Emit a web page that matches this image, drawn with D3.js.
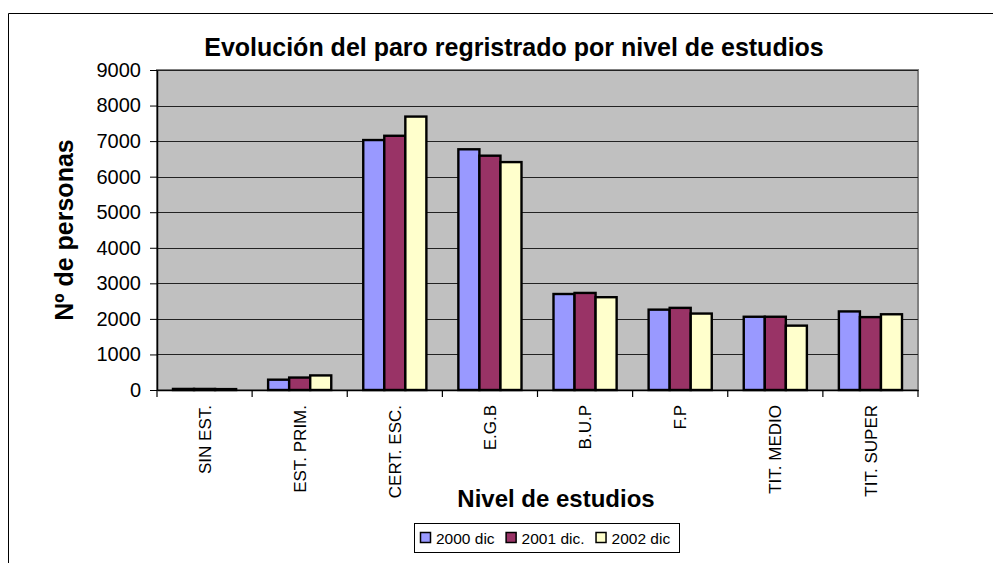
<!DOCTYPE html>
<html>
<head>
<meta charset="utf-8">
<script src="https://cdn.jsdelivr.net/npm/d3@7"></script>
<style>
  html, body { margin: 0; padding: 0; background: #fff; }
  svg { display: block; font-family: Arial, "Liberation Sans", sans-serif; }
</style>
</head>
<body>
<div id="chart"></div>
<script>
/* -------------------------------------------------
   Evolución del paro registrado – grouped bar chart
   ------------------------------------------------- */

// ---------------------------------------------------------
// 1. DATA
// ---------------------------------------------------------
const categories = ["SIN EST.", "EST. PRIM.", "CERT. ESC.", "E.G.B", "B.U.P", "F.P", "TIT. MEDIO", "TIT. SUPER"];
const seriesNames = ["2000 dic", "2001 dic.", "2002 dic"];
const values2000 = [30, 290, 7030, 6770, 2700, 2260, 2060, 2210];
const values2001 = [30, 350, 7150, 6590, 2730, 2310, 2060, 2050];
const values2002 = [25, 410, 7690, 6410, 2610, 2150, 1810, 2130];
const yTicks = [0, 1000, 2000, 3000, 4000, 5000, 6000, 7000, 8000, 9000];

const seriesValues = [values2000, values2001, values2002];
const colors = ["#9999FF", "#993366", "#FFFFCC"];

// ---------------------------------------------------------
// 2. SVG + LAYOUT
// ---------------------------------------------------------
const width = 993, height = 563;
const plot = { left: 157, right: 918, top: 70, bottom: 390 };

const svg = d3.select("#chart").append("svg")
    .attr("width", width)
    .attr("height", height);

// outer chart frame (runs off the bottom/right edge)
svg.append("path")
    .attr("d", `M8.5,${height + 2} V13.5 H${width + 2}`)
    .attr("fill", "none")
    .attr("stroke", "#000")
    .attr("stroke-width", 1);

const x = d3.scaleBand()
    .domain(categories)
    .range([plot.left, plot.right])
    .paddingInner(0)
    .paddingOuter(0);

const xInner = d3.scaleBand()
    .domain(seriesNames)
    .range([0, x.bandwidth()])
    .paddingInner(0)
    .paddingOuter(0.76);

const y = d3.scaleLinear()
    .domain([0, 9000])
    .range([plot.bottom, plot.top]);

// plot area background
svg.append("rect")
    .attr("x", plot.left)
    .attr("y", plot.top)
    .attr("width", plot.right - plot.left)
    .attr("height", plot.bottom - plot.top)
    .attr("fill", "#C0C0C0")
    .attr("stroke", "#808080")
    .attr("stroke-width", 2);

// gridlines
svg.append("g")
  .selectAll("line")
  .data(yTicks.filter(d => d > 0))
  .enter().append("line")
    .attr("x1", plot.left)
    .attr("x2", plot.right)
    .attr("y1", d => Math.round(y(d)) + 0.5)
    .attr("y2", d => Math.round(y(d)) + 0.5)
    .attr("stroke", "#222")
    .attr("stroke-width", 1);

// ---------------------------------------------------------
// 3. BARS
// ---------------------------------------------------------
const barsG = svg.append("g");
seriesNames.forEach((name, si) => {
  barsG.append("g")
    .selectAll("rect")
    .data(categories.map((c, i) => ({ cat: c, value: seriesValues[si][i] })))
    .enter().append("rect")
      .attr("x", d => x(d.cat) + xInner(name))
      .attr("y", d => y(d.value))
      .attr("width", xInner.bandwidth())
      .attr("height", d => y(0) - y(d.value))
      .attr("fill", colors[si])
      .attr("stroke", "#000")
      .attr("stroke-width", 2.4);
});

// ---------------------------------------------------------
// 4. AXES
// ---------------------------------------------------------
const yAxis = svg.append("g")
    .attr("transform", `translate(${plot.left},0)`)
    .call(d3.axisLeft(y).tickValues(yTicks).tickFormat(d3.format("d"))
      .tickSize(7).tickPadding(9).tickSizeOuter(0));
yAxis.select(".domain").attr("stroke", "#000").attr("stroke-width", 1.5);
yAxis.selectAll(".tick line").attr("stroke", "#000");
yAxis.selectAll(".tick text")
    .attr("font-size", 20)
    .attr("font-family", "Arial, 'Liberation Sans', sans-serif")
    .attr("fill", "#000");

const xAxis = svg.append("g")
    .attr("transform", `translate(0,${plot.bottom})`)
    .call(d3.axisBottom(x).tickSize(0).tickSizeOuter(0));
xAxis.select(".domain").attr("stroke", "#000").attr("stroke-width", 1.5);
xAxis.selectAll(".tick text")
    .attr("font-size", 17)
    .attr("font-family", "Arial, 'Liberation Sans', sans-serif")
    .attr("fill", "#000")
    .attr("text-anchor", "end")
    .attr("transform", "rotate(-90)")
    .attr("x", -15)
    .attr("y", 0)
    .attr("dy", "0.36em");

// category separator ticks
svg.append("g")
  .selectAll("line")
  .data(categories.concat(["end"]))
  .enter().append("line")
    .attr("x1", (d, i) => i < categories.length ? x(d) : plot.right)
    .attr("x2", (d, i) => i < categories.length ? x(d) : plot.right)
    .attr("y1", plot.bottom)
    .attr("y2", plot.bottom + 7)
    .attr("stroke", "#000")
    .attr("stroke-width", 1.2);

// ---------------------------------------------------------
// 5. TITLES
// ---------------------------------------------------------
svg.append("text")
    .attr("x", 514)
    .attr("y", 56)
    .attr("text-anchor", "middle")
    .attr("font-size", 25)
    .attr("font-weight", "bold")
    .text("Evolución del paro regristrado por nivel de estudios");

svg.append("text")
    .attr("transform", "translate(73,230) rotate(-90)")
    .attr("text-anchor", "middle")
    .attr("font-size", 25)
    .attr("font-weight", "bold")
    .text("Nº de personas");

svg.append("text")
    .attr("x", 556)
    .attr("y", 507)
    .attr("text-anchor", "middle")
    .attr("font-size", 24)
    .attr("font-weight", "bold")
    .text("Nivel de estudios");

// ---------------------------------------------------------
// 6. LEGEND
// ---------------------------------------------------------
const legend = svg.append("g");
legend.append("rect")
    .attr("x", 414.5)
    .attr("y", 523.5)
    .attr("width", 265)
    .attr("height", 29)
    .attr("fill", "#fff")
    .attr("stroke", "#000")
    .attr("stroke-width", 1);

let lx = 420;
seriesNames.forEach((name, i) => {
  legend.append("rect")
      .attr("x", lx + 0.5)
      .attr("y", 532.5)
      .attr("width", 10)
      .attr("height", 10)
      .attr("fill", colors[i])
      .attr("stroke", "#000")
      .attr("stroke-width", 1.5);
  const t = legend.append("text")
      .attr("x", lx + 16)
      .attr("y", 543.5)
      .attr("font-size", 15.5)
      .text(name);
  lx += 16 + t.node().getComputedTextLength() + 11;
});
</script>
</body>
</html>
